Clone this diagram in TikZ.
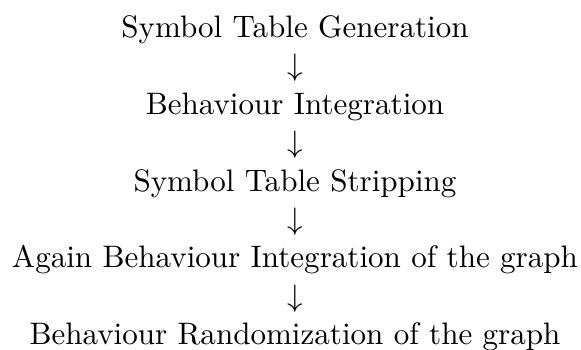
\documentclass[tikz,border=0pt]{standalone}
\newlength\widestline
\begin{document}
\settowidth{\widestline}{Again Behaviour Integration of the graph}%
\begin{tikzpicture}[stage/.style={anchor=base,inner sep=0pt},
                    stagearrow/.style={anchor=base,inner sep=0pt}]
\pgfmathsetmacro\U{\widestline/566}
\pgfmathsetmacro\Lft{\U*295}
\pgfmathsetmacro\Rgt{\U*286}
\pgfmathsetmacro\T{\U*37}
\pgfmathsetmacro\B{\U*313}
\pgfmathsetmacro\L{\U*38.5}
\useasboundingbox ({-\Lft pt},{\T pt}) rectangle ({\Rgt pt},{-\B pt});
\node[stage] (s1) at (0,0) {Symbol Table Generation};
\node[stagearrow] (a1) at (0,-\L pt) {$\downarrow$};
\node[stage] (s2) at (0,-2*\L pt) {Behaviour Integration};
\node[stagearrow] (a2) at (0,-3*\L pt) {$\downarrow$};
\node[stage] (s3) at (0,-4*\L pt) {Symbol Table Stripping};
\node[stagearrow] (a3) at (0,-5*\L pt) {$\downarrow$};
\node[stage] (s4) at (0,-6*\L pt) {Again Behaviour Integration of the graph};
\node[stagearrow] (a4) at (0,-7*\L pt) {$\downarrow$};
\node[stage] (s5) at (0,-8*\L pt) {Behaviour Randomization of the graph};
\end{tikzpicture}
\end{document}
